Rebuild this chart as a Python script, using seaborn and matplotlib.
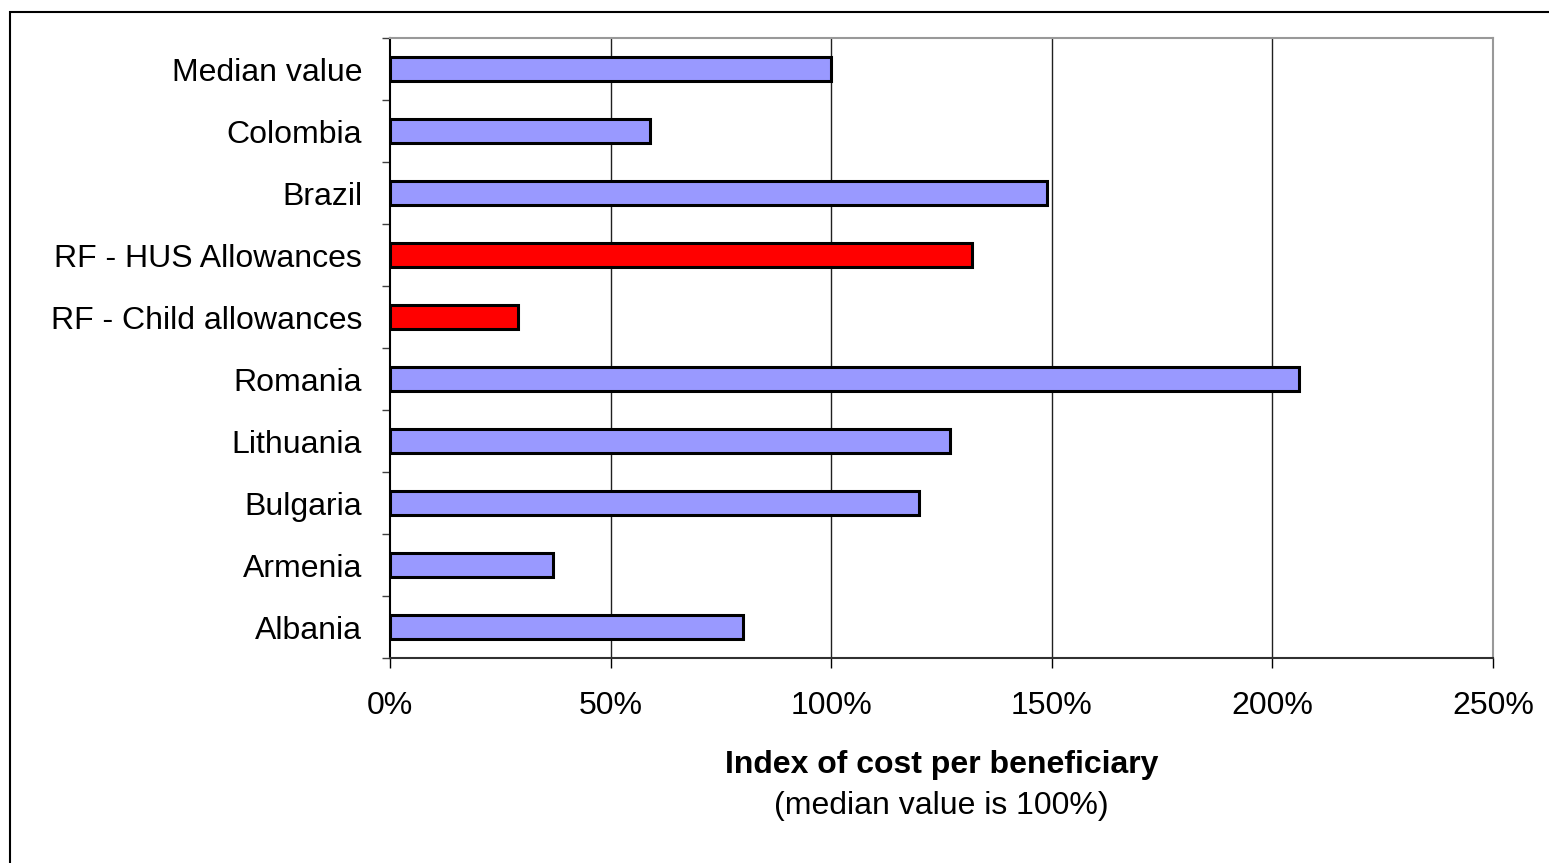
import pandas as pd
import numpy as np
import matplotlib
matplotlib.use("Agg")
import matplotlib.pyplot as plt
import seaborn as sns
from matplotlib.patches import Rectangle
from matplotlib.ticker import FixedLocator

categories = ["Median value", "Colombia", "Brazil", "RF - HUS Allowances",
              "RF - Child allowances", "Romania", "Lithuania", "Bulgaria",
              "Armenia", "Albania"]
values = [100, 59, 149, 132, 29, 206, 127, 120, 37, 80]
groups = ["other", "other", "other", "RF", "RF", "other", "other", "other", "other", "other"]
palette = {"other": "#9999FF", "RF": "#FF0000"}
x_ticks = [0, 50, 100, 150, 200, 250]

sns.set_theme(style="white")
plt.rcParams['font.family'] = ['Liberation Sans', 'DejaVu Sans']
plt.rcParams['text.color'] = 'black'
plt.rcParams['xtick.color'] = 'black'
plt.rcParams['ytick.color'] = 'black'

df = pd.DataFrame({"category": categories, "value": values, "group": groups})

fig = plt.figure(figsize=(15.49, 8.63), dpi=100)
ax = fig.add_axes([390 / 1549, 1 - 658 / 863, (1493 - 390) / 1549, (658 - 38) / 863])

sns.barplot(data=df, x="value", y="category", hue="group", palette=palette,
            order=categories, dodge=False, width=0.4, edgecolor="black",
            linewidth=2.2, saturation=1, legend=False, ax=ax, zorder=3)

ax.set_xlim(0, 250)
ax.set_ylim(len(categories) - 0.5, -0.5)
ax.set_xticks(x_ticks)
ax.set_xticklabels([f"{t}%" for t in x_ticks], fontsize=23)
ax.tick_params(axis="x", direction="out", length=7, width=1, color="black", pad=17, bottom=True,
               labelcolor="black")
ax.tick_params(axis="y", which="major", length=0, pad=20, labelsize=23, labelcolor="black")
ax.yaxis.set_minor_locator(FixedLocator(np.arange(-0.5, len(categories), 1.0)))
ax.tick_params(axis="y", which="minor", direction="out", length=6, width=1, color="#404040", left=True)

for t in x_ticks[1:-1]:
    ax.axvline(t, color="#202020", linewidth=1, zorder=1)

ax.spines["left"].set_color("black")
ax.spines["bottom"].set_color("#303030")
ax.spines["top"].set_color("#999999")
ax.spines["right"].set_color("#999999")
for s in ax.spines.values():
    s.set_linewidth(1.5)
    s.set_visible(True)

ax.set_ylabel("")
ax.set_xlabel("")
fig.text(941.5 / 1549, 1 - 765 / 863, "Index of cost per beneficiary", ha="center", va="center",
         fontsize=23, fontweight="bold", color="black")
fig.text(941.5 / 1549, 1 - 806 / 863, "(median value is 100%)", ha="center", va="center",
         fontsize=23, color="black")

fig.patches.append(Rectangle((10 / 1549, -0.1), 1.2, 1 - 12 / 863 + 0.1, transform=fig.transFigure,
                             fill=False, edgecolor="black", linewidth=1.5))

fig.savefig("out.png", dpi=100)
